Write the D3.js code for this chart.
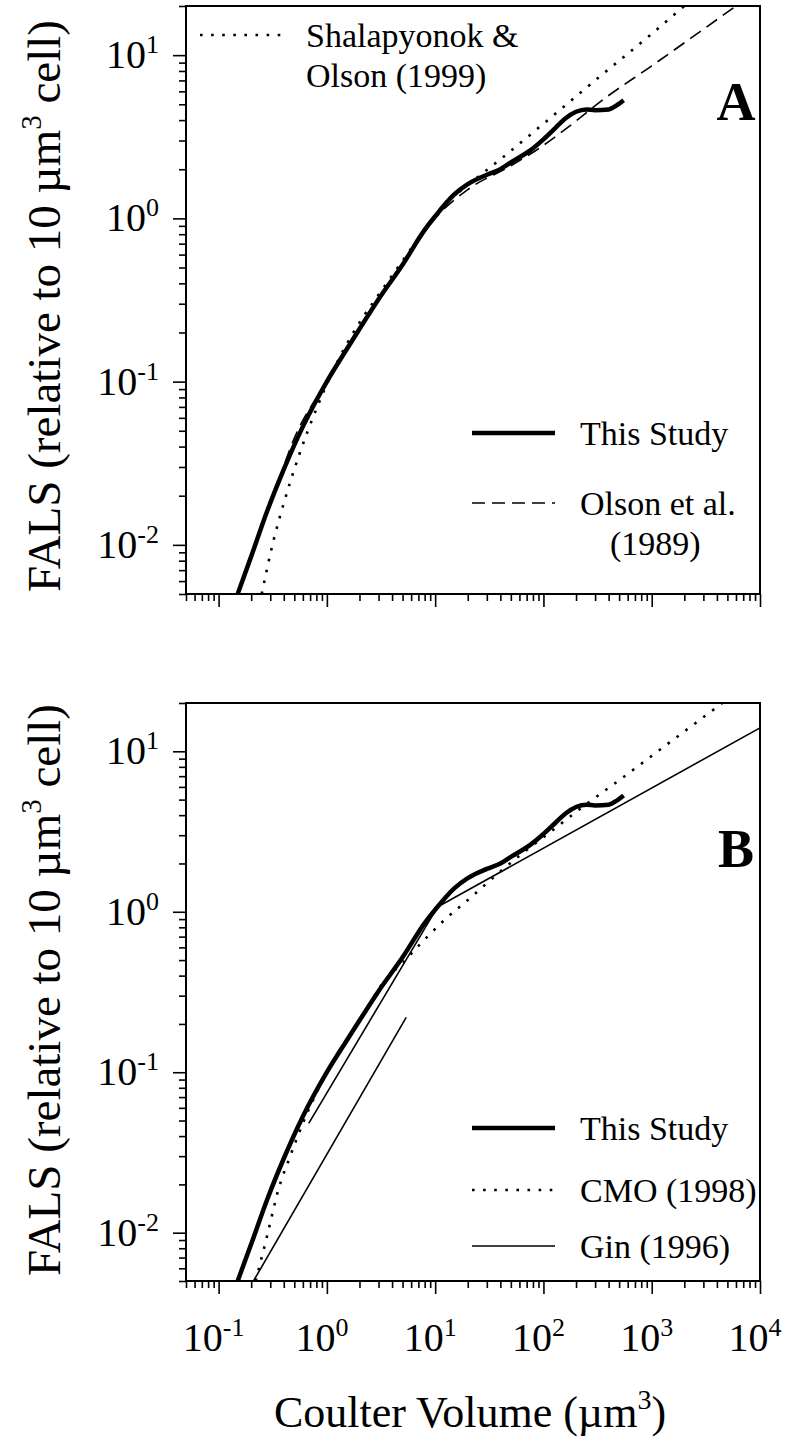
<!DOCTYPE html>
<html>
<head>
<meta charset="utf-8">
<script src="https://cdn.jsdelivr.net/npm/d3@7"></script>
<style>
  html, body { margin: 0; padding: 0; background: #fff; }
  svg { display: block; }
  text { font-family: "Liberation Serif", "Times New Roman", serif; fill: #000; }
</style>
</head>
<body>
<svg id="chart" width="789" height="1441"></svg>
<script>
// Coulter volume (µm³) and FALS relative to a 10 µm³ cell
const studyVol  = [0.15, 0.2, 0.28, 0.4, 0.6, 1, 1.5, 2, 3, 5, 8, 10, 15, 20, 30, 40, 50, 75, 100, 130, 160, 200, 250, 300, 400, 480, 550];
const studyFals = [0.005, 0.0085, 0.016, 0.029, 0.053, 0.1, 0.155, 0.21, 0.32, 0.52, 0.85, 1.03, 1.4, 1.62, 1.85, 2.0, 2.2, 2.6, 3.05, 3.6, 4.1, 4.5, 4.65, 4.6, 4.65, 4.95, 5.3];

// Shalapyonok & Olson (1999)
const shalVol  = [0.25, 0.32, 0.4, 0.55, 0.8, 1.2, 2, 3, 5, 8, 12, 20, 40, 100, 300, 1000, 2000];
const shalFals = [0.005, 0.0105, 0.018, 0.035, 0.068, 0.125, 0.23, 0.34, 0.55, 0.85, 1.2, 1.6, 2.3, 3.8, 7.0, 13.5, 20];

// Olson et al. (1989)
const olsonVol  = [0.15, 0.2, 0.3, 0.5, 1, 2, 5, 10, 20, 50, 100, 200, 350, 1000, 6000];
const olsonFals = [0.005, 0.0085, 0.0175, 0.045, 0.1, 0.21, 0.52, 1.0, 1.5, 2.1, 2.8, 3.95, 5.3, 8.6, 20];

// CMO (1998)
const cmoVol  = [0.22, 0.28, 0.36, 0.45, 0.6, 1, 2, 3.4, 5, 7.8, 12, 22, 35, 67, 120, 230, 500, 1500, 4500];
const cmoFals = [0.005, 0.0095, 0.019, 0.029, 0.048, 0.1, 0.21, 0.37, 0.48, 0.66, 0.88, 1.25, 1.65, 2.37, 3.2, 4.5, 6.6, 11.5, 20];

// Gin (1996): two straight pieces
const ginLowVol  = [0.21, 5.4];
const ginLowFals = [0.005, 0.22];
const ginVol  = [0.68, 10.5, 10000];
const ginFals = [0.048, 1.07, 14];

// Axis extents and tick values
const volExtent  = [0.05, 10000];
const falsExtent = [0.005, 20];
const volMajor  = [0.1, 1, 10, 100, 1000, 10000];
const volExp    = ["-1", "0", "1", "2", "3", "4"];
const falsMajor = [0.01, 0.1, 1, 10];
const falsExp   = ["-2", "-1", "0", "1"];

const svg = d3.select("#chart");
const left = 186, right = 760;

function minorTicks(lo, hi) {
  const out = [];
  for (let e = Math.floor(Math.log10(lo)); e <= Math.ceil(Math.log10(hi)); e++) {
    for (let m = 2; m <= 9; m++) {
      const v = m * Math.pow(10, e);
      if (v >= lo * 0.999 && v <= hi * 1.001) out.push(v);
    }
  }
  return out;
}

function zip(xs, ys) { return xs.map((v, i) => [v, ys[i]]); }

function drawPanel(cfg) {
  const x = d3.scaleLog().domain(volExtent).range([left, right]);
  const y = d3.scaleLog().domain(falsExtent).range([cfg.bottom, cfg.top]);
  const g = svg.append("g");

  const clipId = "clip-" + cfg.letter;
  svg.append("clipPath").attr("id", clipId)
    .append("rect").attr("x", left).attr("y", cfg.top)
    .attr("width", right - left).attr("height", cfg.bottom - cfg.top);

  // axes: outward ticks on the left and bottom
  const axisStyle = sel => {
    sel.select(".domain").remove();
    sel.selectAll("line").attr("stroke", "#000").attr("stroke-width", 1.6);
  };
  g.append("g").attr("transform", `translate(0,${cfg.bottom})`)
    .call(d3.axisBottom(x).tickValues(minorTicks(volExtent[0], volExtent[1])).tickSize(7).tickFormat(""))
    .call(axisStyle);
  g.append("g").attr("transform", `translate(0,${cfg.bottom})`)
    .call(d3.axisBottom(x).tickValues(volMajor).tickSize(13).tickFormat(""))
    .call(axisStyle);
  g.append("g").attr("transform", `translate(${left},0)`)
    .call(d3.axisLeft(y).tickValues(minorTicks(falsExtent[0], falsExtent[1])).tickSize(7).tickFormat(""))
    .call(axisStyle);
  g.append("g").attr("transform", `translate(${left},0)`)
    .call(d3.axisLeft(y).tickValues(falsMajor).tickSize(13).tickFormat(""))
    .call(axisStyle);

  // frame
  g.append("rect").attr("x", left).attr("y", cfg.top)
    .attr("width", right - left).attr("height", cfg.bottom - cfg.top)
    .attr("fill", "none").attr("stroke", "#000").attr("stroke-width", 2);

  // y tick labels
  falsMajor.forEach((v, i) => {
    const t = g.append("text").attr("x", left - 27).attr("y", y(v) + 13)
      .attr("text-anchor", "end").style("font-size", "40px");
    t.append("tspan").text("10");
    t.append("tspan").attr("dy", -15).style("font-size", "26px").text(falsExp[i]);
  });

  // x tick labels
  if (cfg.xLabels) {
    volMajor.forEach((v, i) => {
      const t = g.append("text").attr("x", x(v) - 5).attr("y", cfg.bottom + 70)
        .attr("text-anchor", "middle").style("font-size", "40px");
      t.append("tspan").text("10");
      t.append("tspan").attr("dy", -15).style("font-size", "26px").text(volExp[i]);
    });
  }

  // y axis title
  const yt = g.append("text")
    .attr("transform", `translate(60,${cfg.titleY}) rotate(-90)`)
    .attr("text-anchor", "middle").style("font-size", "47px");
  yt.append("tspan").text("FALS (relative to 10 µm");
  yt.append("tspan").attr("dy", -19).style("font-size", "29px").text("3");
  yt.append("tspan").attr("dy", 19).text(" cell)");

  // series
  const line = (curve) => d3.line().x(d => x(d[0])).y(d => y(d[1])).curve(curve);
  const plot = g.append("g").attr("clip-path", `url(#${clipId})`);
  cfg.series.forEach(s => {
    plot.append("path").datum(zip(s.vol, s.fals))
      .attr("d", line(s.curve || d3.curveMonotoneX))
      .attr("fill", "none").attr("stroke", "#000")
      .attr("stroke-width", s.width)
      .attr("stroke-dasharray", s.dash || null)
      .attr("stroke-linecap", s.cap || "butt")
      .attr("stroke-linejoin", "round");
  });

  // legend entries
  cfg.legend.forEach(e => {
    const style = cfg.series[e.series];
    g.append("line").attr("x1", e.x1).attr("x2", e.x2).attr("y1", e.y).attr("y2", e.y)
      .attr("stroke", "#000").attr("stroke-width", style.width)
      .attr("stroke-dasharray", style.dash || null)
      .attr("stroke-linecap", style.cap || "butt");
    e.lines.forEach((txt, k) => {
      g.append("text").attr("x", e.tx[k]).attr("y", e.ty[k])
        .style("font-size", "34px").text(txt);
    });
  });

  // panel letter
  g.append("text").attr("x", cfg.letterX).attr("y", cfg.letterY)
    .attr("text-anchor", "middle").style("font-size", "54px").style("font-weight", "bold")
    .text(cfg.letter);
}

const thick = { vol: studyVol, fals: studyFals, width: 4.5 };

drawPanel({
  letter: "A", top: 6, bottom: 594, titleY: 306, xLabels: false, letterX: 736, letterY: 120,
  series: [
    { vol: olsonVol, fals: olsonFals, width: 1.6, dash: "13 7" },
    { vol: shalVol, fals: shalFals, width: 2.6, dash: "2.6 8.5" },
    thick
  ],
  legend: [
    { series: 1, x1: 200, x2: 285, y: 35, lines: ["Shalapyonok &", "Olson (1999)"], tx: [306, 306], ty: [47, 87] },
    { series: 2, x1: 472, x2: 555, y: 433, lines: ["This Study"], tx: [580], ty: [445] },
    { series: 0, x1: 472, x2: 555, y: 503, lines: ["Olson et al.", "(1989)"], tx: [580, 610], ty: [515, 555] }
  ]
});

drawPanel({
  letter: "B", top: 703, bottom: 1281, titleY: 990, xLabels: true, letterX: 736, letterY: 867,
  series: [
    { vol: ginVol, fals: ginFals, width: 1.6, curve: d3.curveLinear },
    { vol: cmoVol, fals: cmoFals, width: 2.6, dash: "2.6 8.5" },
    thick,
    { vol: ginLowVol, fals: ginLowFals, width: 1.6, curve: d3.curveLinear }
  ],
  legend: [
    { series: 2, x1: 472, x2: 555, y: 1128, lines: ["This Study"], tx: [580], ty: [1140] },
    { series: 1, x1: 472, x2: 555, y: 1190, lines: ["CMO (1998)"], tx: [580], ty: [1202] },
    { series: 0, x1: 472, x2: 555, y: 1246, lines: ["Gin (1996)"], tx: [580], ty: [1258] }
  ]
});

// x axis title
const xt = svg.append("text").attr("x", 470).attr("y", 1427)
  .attr("text-anchor", "middle").style("font-size", "44px");
xt.append("tspan").text("Coulter Volume (µm");
xt.append("tspan").attr("dy", -18).style("font-size", "28px").text("3");
xt.append("tspan").attr("dy", 18).text(")");
</script>
</body>
</html>
